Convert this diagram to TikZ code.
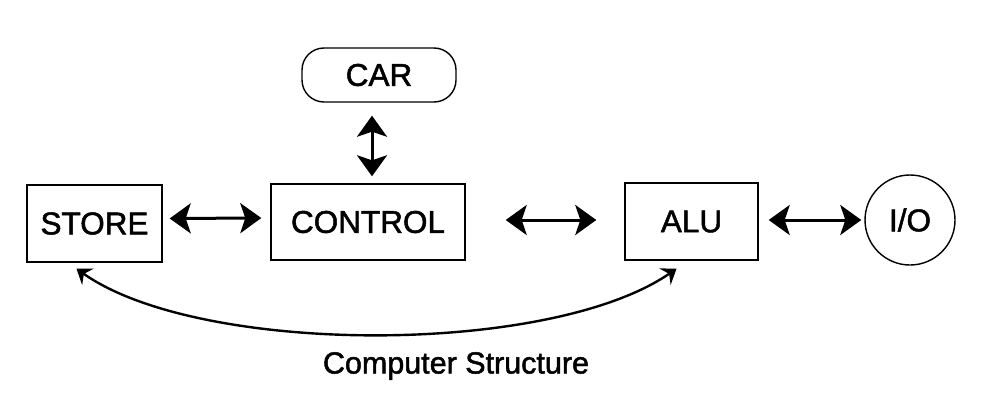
\documentclass[tikz,border=0pt]{standalone}
\usepackage{fontspec}
\setmainfont{Liberation Sans}
\newfontfamily\labelfont{Liberation Sans}[FakeBold=1.6]
\usetikzlibrary{arrows.meta}
\begin{document}
\begin{tikzpicture}[x=1pt,y=-1pt,
  every node/.style={font=\labelfont\fontsize{31.5}{36}\selectfont, inner sep=0pt},
  boxnode/.style={draw, line width=1.4pt, rectangle},
  biarrow/.style={line width=3pt, {Stealth[length=21pt,width=30pt,inset=5pt]}-{Stealth[length=21pt,width=30pt,inset=5pt]}},
  curvearrow/.style={line width=2.4pt, {Stealth[length=14pt,width=20pt,inset=5pt]}-{Stealth[length=14pt,width=20pt,inset=5pt]}}
]
\useasboundingbox[fill=white] (0,0) rectangle (990,404);
\node[boxnode, minimum width=135pt, minimum height=77pt] (store) at (94.5,223.5) {STORE};
\node[boxnode, minimum width=194pt, minimum height=76pt] (control) at (368,222) {CONTROL};
\node[boxnode, minimum width=133pt, minimum height=77pt] (alu) at (691.5,221.5) {ALU};
\node[boxnode, rounded corners=22pt, minimum width=154pt, minimum height=54pt] (car) at (379,75) {CAR};
\node[draw, line width=1.4pt, circle, minimum size=90pt] (io) at (910,220) {I/O};
\node (caption) at (456,366) {\fontsize{30.5}{34}\selectfont Computer Structure};

\draw[biarrow] ([shift={(7,-5)}]store.east) -- ([shift={(-9,-4)}]control.west);
\draw[biarrow] ([shift={(40,-2)}]control.east) -- ([shift={(-28,-1.5)}]alu.west);
\draw[biarrow] ([shift={(10,-1.5)}]alu.east) -- ([shift={(-3,0)}]io.west);
\draw[biarrow] ([shift={(-7,13)}]car.south) -- ([shift={(4,-7)}]control.north);
\draw[curvearrow] ([shift={(-18,6)}]store.south) .. controls (200,356) and (550,356) .. ([shift={(-15,8)}]alu.south);
\end{tikzpicture}
\end{document}
